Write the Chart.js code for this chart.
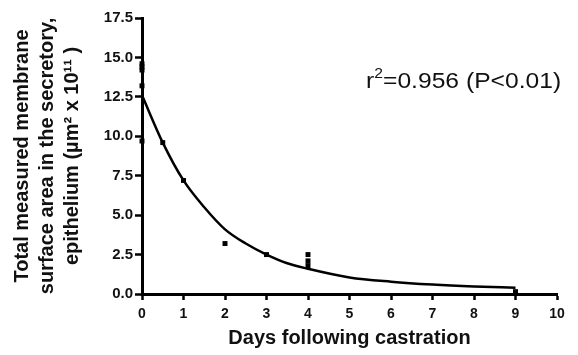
<!DOCTYPE html>
<html>
<head>
<meta charset="utf-8">
<script src="https://cdn.jsdelivr.net/npm/chart.js@4/dist/chart.umd.min.js"></script>
<style>
	html, body { margin: 0; padding: 0; background: #fff; }
	canvas { display: block; }
</style>
</head>
<body>
<canvas id="castrationChart" width="578" height="355"></canvas>
<script>
// ===== DATA =====
// measured points (days, area x 10^11 um^2)
const daysMeasured = [0, 0, 0, 0, 0, 0.5, 1, 2, 3, 4, 4, 4, 9];
const areaMeasured = [14.6, 14.4, 14.2, 13.2, 9.7, 9.6, 7.2, 3.2, 2.5, 2.5, 2.1, 1.8, 0.15];

// fitted decay curve
const daysCurve = [0, 0.5, 1, 1.5, 2, 2.5, 3, 3.5, 4, 5, 6, 7, 8, 9];
const areaCurve = [12.6, 9.6, 7.2, 5.5, 4.1, 3.2, 2.5, 1.95, 1.6, 1.05, 0.78, 0.6, 0.48, 0.4];

const xTicks = [0, 1, 2, 3, 4, 5, 6, 7, 8, 9, 10];
const yTicks = [0, 2.5, 5, 7.5, 10, 12.5, 15, 17.5];

const fitLabel = { base: 'r', sup: '2', rest: '=0.956 (P<0.01)', x: 5.4, y: 13.05 };

const FONT = "'Liberation Sans', Arial, Helvetica, sans-serif";

// ===== ANNOTATION =====
const fitText = {
	id: 'fitText',
	afterDraw(chart) {
		const ctx = chart.ctx;
		const px = chart.scales.x.getPixelForValue(fitLabel.x);
		const py = chart.scales.y.getPixelForValue(fitLabel.y);
		ctx.save();
		ctx.translate(px, py);
		ctx.scale(1.12, 1);
		ctx.fillStyle = '#111';
		ctx.textBaseline = 'alphabetic';
		ctx.textAlign = 'left';
		ctx.font = '22px ' + FONT;
		ctx.fillText(fitLabel.base, 0, 0);
		let w = ctx.measureText(fitLabel.base).width;
		ctx.font = '14px ' + FONT;
		ctx.fillText(fitLabel.sup, w, -10);
		w += ctx.measureText(fitLabel.sup).width;
		ctx.font = '22px ' + FONT;
		ctx.fillText(fitLabel.rest, w, 0);
		ctx.restore();
	}
};

// ===== CHART =====
const ctx = document.getElementById('castrationChart').getContext('2d');

new Chart(ctx, {
	type: 'scatter',
	data: {
		datasets: [
			{
				label: 'Fit',
				data: daysCurve.map((d, i) => ({ x: d, y: areaCurve[i] })),
				showLine: true,
				borderColor: '#000',
				borderWidth: 2.5,
				pointRadius: 0,
				cubicInterpolationMode: 'monotone',
				fill: false,
				clip: false
			},
			{
				label: 'Measured',
				data: daysMeasured.map((d, i) => ({ x: d, y: areaMeasured[i] })),
				pointStyle: 'rect',
				pointRadius: 3.5,
				backgroundColor: '#000',
				borderColor: '#000',
				borderWidth: 0,
				clip: false
			}
		]
	},
	options: {
		responsive: false,
		animation: false,
		layout: {
			padding: { top: 18, right: 21, bottom: 0, left: 0 }
		},
		plugins: {
			legend: { display: false },
			tooltip: { enabled: false }
		},
		scales: {
			x: {
				type: 'linear',
				min: 0,
				max: 10,
				afterBuildTicks: scale => { scale.ticks = xTicks.map(v => ({ value: v })); },
				afterFit: scale => { scale.height = 61; },
				ticks: {
					color: '#111',
					padding: 6,
					font: { family: FONT, size: 14, weight: 'bold' }
				},
				grid: {
					drawOnChartArea: false,
					color: '#000',
					tickLength: 6,
					tickWidth: 2.5
				},
				border: { color: '#000', width: 3 },
				title: {
					display: true,
					text: 'Days following castration',
					color: '#111',
					padding: { top: 0, bottom: 5 },
					font: { family: FONT, size: 20, weight: 'bold' }
				}
			},
			y: {
				type: 'linear',
				min: 0,
				max: 17.5,
				afterBuildTicks: scale => { scale.ticks = yTicks.map(v => ({ value: v })); },
				afterFit: scale => { scale.width = 142; },
				ticks: {
					color: '#111',
					padding: 2,
					callback: v => v.toFixed(1),
					font: { family: FONT, size: 15, weight: 'bold' }
				},
				grid: {
					drawOnChartArea: false,
					color: '#000',
					tickLength: 7,
					tickWidth: 2.5
				},
				border: { color: '#000', width: 3 },
				title: {
					display: true,
					text: ['Total measured membrane', 'surface area in the secretory,', 'epithelium (\u00b5m\u00b2 x 10\u00b9\u00b9 )'],
					color: '#111',
					padding: { top: 10, bottom: 0 },
					font: { family: FONT, size: 20, weight: 'bold', lineHeight: 1.25 }
				}
			}
		}
	},
	plugins: [fitText]
});
</script>
</body>
</html>
